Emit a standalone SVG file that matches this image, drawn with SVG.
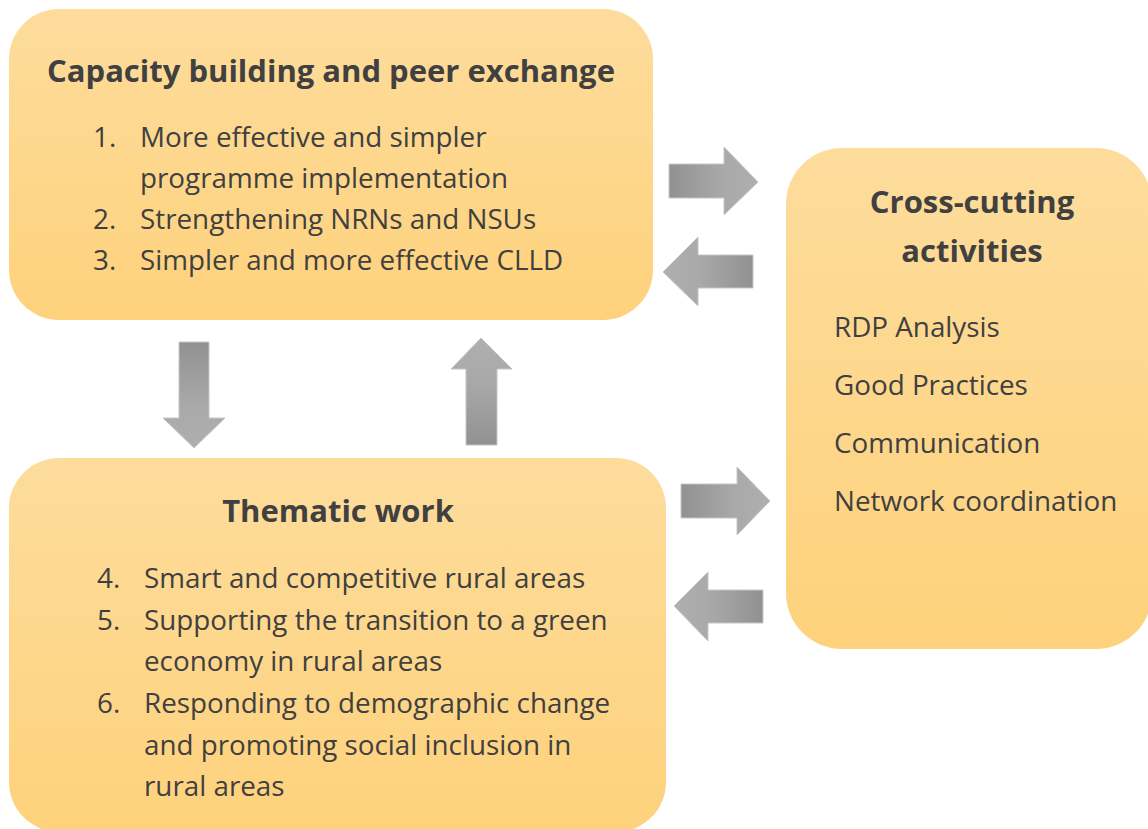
<svg xmlns="http://www.w3.org/2000/svg" width="1148" height="829" viewBox="0 0 1148 829">
  <style>
    .title { font-family: "Open Sans", "Liberation Sans", sans-serif; font-weight: bold; font-size: 31px; fill: #404040; text-anchor: middle; }
    .item { font-family: "Open Sans", "Liberation Sans", sans-serif; font-size: 27.8px; fill: #404040; }
    .box { stroke: none; }
    .arrow { stroke: #c6c6c6; stroke-width: 1; }
  </style>
  <defs>
    <linearGradient id="boxGrad" x1="0" y1="0" x2="0" y2="1">
      <stop offset="0" stop-color="#fddc9c"/>
      <stop offset="1" stop-color="#fed27c"/>
    </linearGradient>
    <linearGradient id="gRight" x1="0" y1="0" x2="1" y2="0">
      <stop offset="0" stop-color="#919191"/>
      <stop offset="0.6" stop-color="#a9a9a9"/>
      <stop offset="1" stop-color="#afafaf"/>
    </linearGradient>
    <linearGradient id="gLeft" x1="1" y1="0" x2="0" y2="0">
      <stop offset="0" stop-color="#919191"/>
      <stop offset="0.6" stop-color="#a9a9a9"/>
      <stop offset="1" stop-color="#afafaf"/>
    </linearGradient>
    <linearGradient id="gDown" x1="0" y1="0" x2="0" y2="1">
      <stop offset="0" stop-color="#919191"/>
      <stop offset="0.6" stop-color="#a9a9a9"/>
      <stop offset="1" stop-color="#afafaf"/>
    </linearGradient>
    <linearGradient id="gUp" x1="0" y1="1" x2="0" y2="0">
      <stop offset="0" stop-color="#919191"/>
      <stop offset="0.6" stop-color="#a9a9a9"/>
      <stop offset="1" stop-color="#afafaf"/>
    </linearGradient>
  </defs>

  <rect width="1148" height="829" fill="#ffffff"/>

  <g id="capacity-building">
    <rect class="box" x="9" y="9" width="644" height="311" rx="50" ry="50" fill="url(#boxGrad)"/>
    <text class="title" x="331" y="82">Capacity building and peer exchange</text>
    <text class="item" x="93" y="147">1.</text>
    <text class="item" x="140" y="147">More effective and simpler</text>
    <text class="item" x="140" y="188">programme implementation</text>
    <text class="item" x="93" y="229">2.</text>
    <text class="item" x="140" y="229">Strengthening NRNs and NSUs</text>
    <text class="item" x="93" y="270">3.</text>
    <text class="item" x="140" y="270">Simpler and more effective CLLD</text>
  </g>

  <g id="thematic-work">
    <rect class="box" x="9" y="458" width="657" height="374" rx="50" ry="50" fill="url(#boxGrad)"/>
    <text class="title" x="338" y="522">Thematic work</text>
    <text class="item" x="97" y="588">4.</text>
    <text class="item" x="144" y="588">Smart and competitive rural areas</text>
    <text class="item" x="97" y="630">5.</text>
    <text class="item" x="144" y="630">Supporting the transition to a green</text>
    <text class="item" x="144" y="671">economy in rural areas</text>
    <text class="item" x="97" y="713">6.</text>
    <text class="item" x="144" y="713">Responding to demographic change</text>
    <text class="item" x="144" y="755">and promoting social inclusion in</text>
    <text class="item" x="144" y="796">rural areas</text>
  </g>

  <g id="cross-cutting">
    <rect class="box" x="786" y="148" width="366" height="501" rx="56" ry="56" fill="url(#boxGrad)"/>
    <text class="title" x="972" y="213">Cross-cutting</text>
    <text class="title" x="972" y="262">activities</text>
    <text class="item" x="834" y="337">RDP Analysis</text>
    <text class="item" x="834" y="395">Good Practices</text>
    <text class="item" x="834" y="453">Communication</text>
    <text class="item" x="834" y="511">Network coordination</text>
  </g>

  <g id="connectors">
    <path class="arrow" fill="url(#gRight)" d="M669,164 L724,164 L724,147 L758,182 L724,215 L724,198 L669,198 Z"/>
    <path class="arrow" fill="url(#gLeft)" d="M753,255 L698,255 L698,237 L663,272 L698,306 L698,288 L753,288 Z"/>
    <path class="arrow" fill="url(#gRight)" d="M681,484 L737,484 L737,467 L770,501 L737,535 L737,518 L681,518 Z"/>
    <path class="arrow" fill="url(#gLeft)" d="M763,590 L708,590 L708,572 L674,606 L708,641 L708,623 L763,623 Z"/>
    <path class="arrow" fill="url(#gDown)" d="M179,342 L209,342 L209,418 L225,418 L194,448 L163,418 L179,418 Z"/>
    <path class="arrow" fill="url(#gUp)" d="M466,445 L497,445 L497,369 L512,369 L481,338 L451,369 L466,369 Z"/>
  </g>
</svg>
